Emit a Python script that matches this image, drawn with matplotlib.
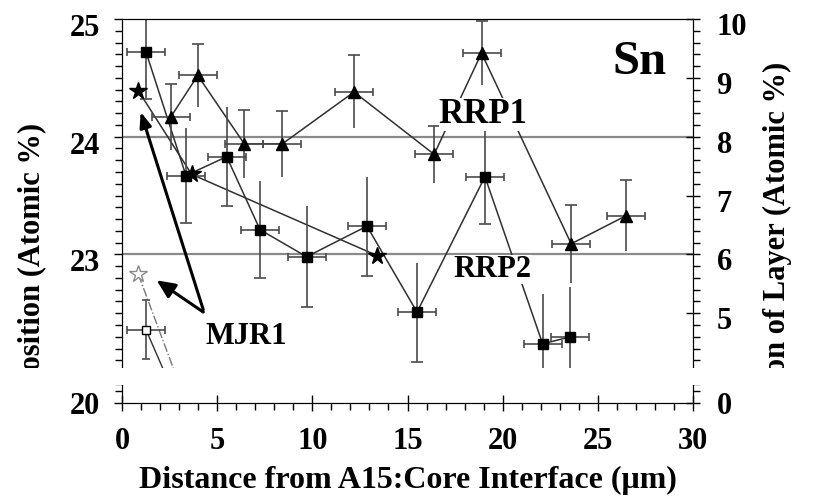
import numpy as np
import matplotlib
matplotlib.use('Agg')
import matplotlib.pyplot as plt
from matplotlib.patches import Rectangle
from matplotlib.transforms import Bbox, TransformedBbox, ScaledTranslation
from matplotlib.ticker import MultipleLocator

plt.rcParams['font.family'] = ['Liberation Serif', 'DejaVu Serif']
plt.rcParams['font.weight'] = 'bold'

## data
# RRP1, filled triangles
rrp1_x = [2.57, 3.98, 6.42, 8.43, 12.19, 16.4, 18.89, 23.6, 26.5]
rrp1_y = [24.17, 24.52, 23.94, 23.94, 24.38, 23.85, 24.71, 23.09, 23.33]
rrp1_yerr = [0.28, 0.27, 0.29, 0.28, 0.31, 0.24, 0.27, 0.33, 0.30]
rrp1_xerr = [1.0] * 9

# RRP2, filled squares
rrp2_x = [1.26, 3.36, 5.5, 7.25, 9.7, 12.87, 15.5, 19.07, 22.1, 23.56]
rrp2_y = [24.72, 23.67, 23.83, 23.21, 22.98, 23.24, 22.51, 23.66, 22.24, 22.30]
rrp2_yerr = [0.40, 0.40, 0.42, 0.41, 0.43, 0.42, 0.42, 0.40, 0.42, 0.42]
rrp2_xerr = [1.0] * 10

# MJR1, filled stars
mjr1_x = [0.86, 3.66, 13.4]
mjr1_y = [24.39, 23.68, 22.99]

# MJR1, open symbols (run off below the cut)
mjr1_star_x = [0.86, 3.0]
mjr1_star_y = [22.83, 21.9]
mjr1_sq_x = [1.26, 2.5]
mjr1_sq_y = [22.36, 21.9]
mjr1_sq_yerr = 0.25
mjr1_sq_xerr = 1.0

grid_levels = [23, 24]

# arrows from the MJR1 label (tip, tail)
arrows = [((0.98, 24.21), (4.27, 22.53), 0.9, 0.35),
          ((1.82, 22.78), (4.27, 22.51), 1.1, 0.5)]

## figure layout in pixels of the 817x497 picture
W, H = 817.0, 497.0
def fx(px):
    return px / W
def fy(py):
    return 1 - py / H

fig = plt.figure(figsize=(8.17, 4.97), dpi=100)
ax = fig.add_axes([fx(122), fy(385), fx(693) - fx(122), fy(19) - fy(385)])
axb = fig.add_axes([fx(122), fy(403), fx(693) - fx(122), 18 / H])

px_per_unit = 117.7
top_lo = 25 - (385 - 19) / px_per_unit
ax.set_xlim(0, 30)
ax.set_ylim(top_lo, 25)
axb.set_xlim(0, 30)
axb.set_ylim(20, 20 + 18 / px_per_unit)

line_c = '#303030'
err_c = '#4a4a4a'

for lv in grid_levels:
    ax.axhline(lv, color='#8a8a8a', lw=1.6, zorder=1)

# series lines
ax.plot(rrp1_x, rrp1_y, color=line_c, lw=1.1, zorder=2)
ax.plot(rrp2_x, rrp2_y, color=line_c, lw=1.1, zorder=2)
ax.plot(mjr1_x, mjr1_y, color=line_c, lw=1.1, zorder=2)
ax.plot(mjr1_star_x, mjr1_star_y, color='#777777', lw=1.0, ls='-.', zorder=2)
ax.plot(mjr1_sq_x, mjr1_sq_y, color=line_c, lw=1.0, zorder=2)

# error bars: x with caps on both ends, y with one cap
ax.errorbar(rrp1_x, rrp1_y, xerr=rrp1_xerr, fmt='none', ecolor=err_c,
            elinewidth=1.2, capsize=3, capthick=1.2, zorder=2)
ax.errorbar(rrp1_x, rrp1_y, yerr=rrp1_yerr, fmt='none', ecolor=err_c,
            elinewidth=1.2, capsize=0, zorder=2)
ax.plot(rrp1_x, np.array(rrp1_y) + np.array(rrp1_yerr), ls='none',
        marker='_', ms=8, mew=1.2, color=err_c, zorder=2)

ax.errorbar(rrp2_x, rrp2_y, xerr=rrp2_xerr, fmt='none', ecolor=err_c,
            elinewidth=1.2, capsize=3, capthick=1.2, zorder=2)
ax.errorbar(rrp2_x, rrp2_y, yerr=rrp2_yerr, fmt='none', ecolor=err_c,
            elinewidth=1.2, capsize=0, zorder=2)
ax.plot(rrp2_x, np.array(rrp2_y) - np.array(rrp2_yerr), ls='none',
        marker='_', ms=8, mew=1.2, color=err_c, zorder=2)

ax.errorbar(mjr1_sq_x[:1], mjr1_sq_y[:1], xerr=mjr1_sq_xerr, yerr=mjr1_sq_yerr,
            fmt='none', ecolor=err_c, elinewidth=1.2, capsize=3, capthick=1.2,
            zorder=2)

# markers
ax.plot(rrp1_x, rrp1_y, ls='none', marker='^', ms=8, color='k', zorder=3)
ax.plot(rrp2_x, rrp2_y, ls='none', marker='s', ms=7, color='k', zorder=3)
ax.plot(mjr1_x, mjr1_y, ls='none', marker='*', ms=13, color='k', zorder=3)
ax.plot(mjr1_star_x[:1], mjr1_star_y[:1], ls='none', marker='*', ms=13,
        mfc='white', mec='#8a8a8a', mew=1.0, zorder=3)
ax.plot(mjr1_sq_x[:1], mjr1_sq_y[:1], ls='none', marker='s', ms=6,
        mfc='white', mec='k', mew=1.0, zorder=3)

# labels
box = dict(fc='white', ec='none', pad=0)
ax.text(18.97, 24.12, 'RRP1', fontsize=25, ha='center', va='baseline',
        bbox=box, zorder=4)
ax.text(19.47, 22.81, 'RRP2', fontsize=22, ha='center', va='baseline',
        bbox=box, zorder=4)
ax.text(6.52, 22.24, 'MJR1', fontsize=22, ha='center', va='baseline',
        bbox=box, zorder=4)
ax.text(27.17, 24.53, 'Sn', fontsize=35, ha='center', va='baseline', zorder=4)

for tip, tail, hl, hw in arrows:
    ax.annotate('', xy=tip, xytext=tail, zorder=5,
                arrowprops=dict(arrowstyle='-|>,head_length=%s,head_width=%s' % (hl, hw),
                                lw=2.2, color='k', mutation_scale=10,
                                shrinkA=0, shrinkB=0))

## axes styling
tick_fs = 22
ax.spines['bottom'].set_visible(False)
ax.tick_params(axis='x', which='both', bottom=False, top=False,
               labelbottom=False)
ax.set_yticks([22, 23, 24, 25], ['', '23', '24', '25'])
ax.yaxis.set_minor_locator(MultipleLocator(0.1))
ax.tick_params(axis='y', which='major', direction='out', length=6, width=1,
               pad=10, labelsize=tick_fs)
ax.tick_params(axis='y', which='minor', direction='out', length=5, width=1)

axr = ax.twinx()
axr.set_ylim(2 * top_lo - 40, 10)
axr.set_yticks([4, 5, 6, 7, 8, 9, 10], ['', '5', '6', '7', '8', '9', '10'])
axr.yaxis.set_minor_locator(MultipleLocator(0.2))
axr.tick_params(axis='y', which='major', direction='inout', length=10, width=1,
                pad=12, labelsize=tick_fs)
axr.tick_params(axis='y', which='minor', direction='out', length=5, width=1)
axr.spines['bottom'].set_visible(False)

axb.spines['top'].set_visible(False)
axb.set_xticks(range(0, 31, 5))
axb.xaxis.set_minor_locator(MultipleLocator(1))
axb.tick_params(axis='x', which='major', direction='inout', length=12, width=1,
                pad=11, labelsize=tick_fs)
axb.tick_params(axis='x', which='minor', direction='out', length=5, width=1)
axb.set_yticks([20])
axb.set_yticks([20.1], minor=True)
axb.tick_params(axis='y', which='major', direction='out', length=6, width=1,
                pad=10, labelsize=tick_fs)
axb.tick_params(axis='y', which='minor', direction='out', length=5, width=1)

axbr = axb.twinx()
axbr.set_ylim(0, 2 * (20 + 18 / px_per_unit) - 40)
axbr.set_yticks([0])
axbr.set_yticks([0.2], minor=True)
axbr.spines['top'].set_visible(False)
axbr.tick_params(axis='y', which='major', direction='inout', length=10, width=1,
                 pad=12, labelsize=tick_fs)
axbr.tick_params(axis='y', which='minor', direction='out', length=5, width=1)

# the cut of the original figure: nothing of the upper panel below this line
clip = TransformedBbox(Bbox.from_extents(0, fy(368), 1, 1), fig.transFigure)

def shift_labels(labels, dy_px, clipped=False):
    off = ScaledTranslation(0, -dy_px / 100.0, fig.dpi_scale_trans)
    for t in labels:
        t.set_transform(t.get_transform() + off)
        if clipped:
            t.set_clip_box(clip)
            t.set_clip_on(True)

shift_labels(ax.get_yticklabels(), 6, True)
shift_labels(axr.get_yticklabels(), 5, True)

# white gap of the cut figure
fig.add_artist(Rectangle((0, fy(385)), 1, fy(368) - fy(385),
                         transform=fig.transFigure, fc='white', ec='none',
                         zorder=10))

yl = fig.text(fx(32), fy(123), 'Composition (Atomic %)', rotation=90,
              ha='center', va='top', fontsize=22)
yr = fig.text(fx(777), fy(62), 'Composition of Layer (Atomic %)', rotation=90,
              ha='center', va='top', fontsize=22)
for t in (yl, yr):
    t.set_clip_box(clip)
    t.set_clip_on(True)

fig.text(fx(408), fy(488), 'Distance from A15:Core Interface (\u03bcm)',
         ha='center', va='baseline', fontsize=23)

plt.savefig('out.png', dpi=100)
